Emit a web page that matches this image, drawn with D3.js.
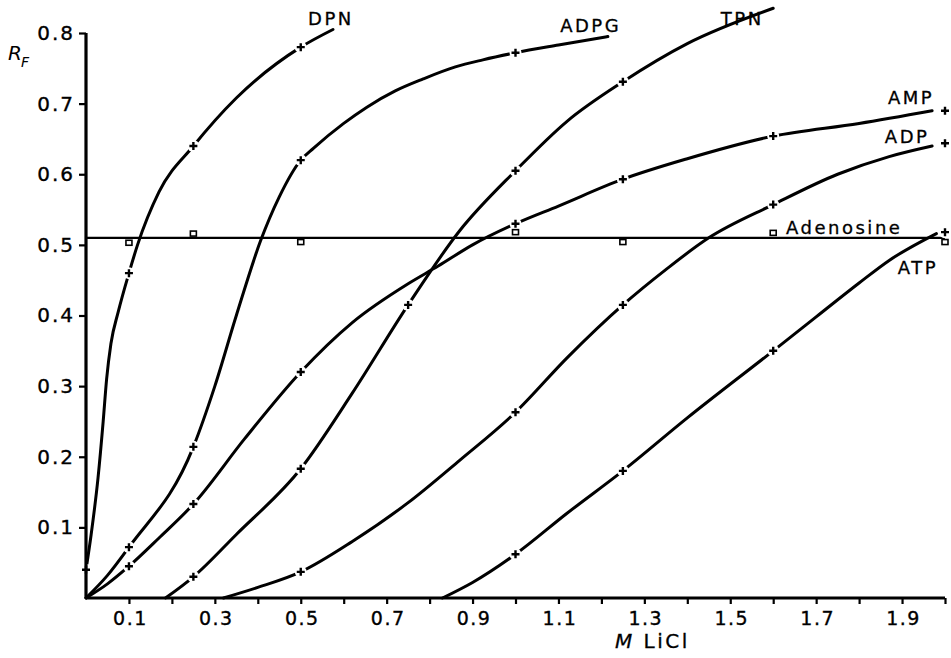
<!DOCTYPE html>
<html><head><meta charset="utf-8">
<script src="https://cdn.jsdelivr.net/npm/d3@7"></script>
<style>body{margin:0;background:#fff} svg{display:block}</style>
</head><body><svg id="c" width="951" height="658"></svg>
<script>
// ---- data ----
const seriesNames = ["DPN","ADPG","TPN","AMP","ADP","ATP","Adenosine"];

// measured points (+ markers)
const dpnX  = [0, 0.1, 0.25, 0.5];            const dpnY  = [0.04, 0.46, 0.64, 0.78];
const adpgX = [0.1, 0.25, 0.5, 1.0];          const adpgY = [0.072, 0.214, 0.62, 0.772];
const tpnX  = [0.25, 0.5, 0.75, 1.0, 1.25];   const tpnY  = [0.03, 0.183, 0.415, 0.605, 0.731];
const ampX  = [0.1, 0.25, 0.5, 1.0, 1.25, 1.6, 2.0]; const ampY = [0.045, 0.133, 0.32, 0.53, 0.593, 0.654, 0.69];
const adpX  = [0.5, 1.0, 1.25, 1.6, 2.0];     const adpY  = [0.037, 0.263, 0.415, 0.557, 0.644];
const atpX  = [1.0, 1.25, 1.6, 2.0];          const atpY  = [0.062, 0.18, 0.35, 0.518];
const adenX = [0.1, 0.25, 0.5, 1.0, 1.25, 1.6, 2.0]; const adenY = [0.503, 0.516, 0.504, 0.518, 0.504, 0.517, 0.504];
const adenLevel = 0.51;

// drawn curves
const dpnCurveX  = [0, 0.012, 0.028, 0.04, 0.048, 0.058, 0.075, 0.1, 0.12, 0.17, 0.25, 0.35, 0.5, 0.575];
const dpnCurveY  = [0.04, 0.09, 0.17, 0.25, 0.31, 0.36, 0.405, 0.46, 0.50, 0.575, 0.64, 0.708, 0.78, 0.805];
const adpgCurveX = [0, 0.05, 0.1, 0.25, 0.3, 0.35, 0.406, 0.45, 0.5, 0.53, 0.6, 0.654, 0.72, 0.785, 0.86, 0.924, 1.0, 1.1, 1.215];
const adpgCurveY = [0, 0.032, 0.072, 0.214, 0.3, 0.4, 0.505, 0.568, 0.62, 0.637, 0.672, 0.695, 0.718, 0.735, 0.752, 0.762, 0.772, 0.783, 0.795];
const tpnCurveX  = [0.185, 0.25, 0.35, 0.5, 0.62, 0.75, 0.87, 1.0, 1.12, 1.25, 1.4, 1.6];
const tpnCurveY  = [0, 0.03, 0.09, 0.183, 0.29, 0.415, 0.52, 0.605, 0.675, 0.731, 0.785, 0.835];
const ampCurveX  = [0, 0.05, 0.1, 0.17, 0.25, 0.37, 0.5, 0.62, 0.75, 0.82, 0.9, 1.0, 1.1, 1.25, 1.4, 1.6, 1.8, 1.97];
const ampCurveY  = [0, 0.02, 0.045, 0.085, 0.133, 0.226, 0.32, 0.39, 0.445, 0.47, 0.5, 0.53, 0.555, 0.593, 0.622, 0.654, 0.672, 0.69];
const adpCurveX  = [0.32, 0.4, 0.5, 0.62, 0.75, 0.87, 1.0, 1.12, 1.25, 1.35, 1.45, 1.6, 1.75, 1.87, 1.97];
const adpCurveY  = [0, 0.015, 0.037, 0.08, 0.135, 0.195, 0.263, 0.34, 0.415, 0.465, 0.51, 0.557, 0.6, 0.625, 0.64];
const atpCurveX  = [0.83, 0.9, 1.0, 1.12, 1.25, 1.4, 1.6, 1.7, 1.8, 1.87, 1.98];
const atpCurveY  = [0, 0.022, 0.062, 0.12, 0.18, 0.255, 0.35, 0.398, 0.446, 0.478, 0.516];

const xTickValues = [0.1,0.2,0.3,0.4,0.5,0.6,0.7,0.8,0.9,1.0,1.1,1.2,1.3,1.4,1.5,1.6,1.7,1.8,1.9,2.0];
const xTickLabels = ["0.1","","0.3","","0.5","","0.7","","0.9","","1.1","","1.3","","1.5","","1.7","","1.9",""];
const yTickValues = [0.1,0.2,0.3,0.4,0.5,0.6,0.7,0.8];
const yTickLabels = ["0.1","0.2","0.3","0.4","0.5","0.6","0.7","0.8"];

// ---- drawing ----
const svg = d3.select("#c");
const x = d3.scaleLinear().domain([0, 2.0]).range([86, 945]);
const y = d3.scaleLinear().domain([0, 0.8]).range([598, 33]);
const FONT = "'DejaVu Sans', sans-serif";

const zip = (a, b) => a.map((v, i) => [v, b[i]]);
const curves = [
  zip(dpnCurveX, dpnCurveY), zip(adpgCurveX, adpgCurveY), zip(tpnCurveX, tpnCurveY),
  zip(ampCurveX, ampCurveY), zip(adpCurveX, adpCurveY), zip(atpCurveX, atpCurveY)
];
const markers = [
  zip(dpnX, dpnY), zip(adpgX, adpgY), zip(tpnX, tpnY),
  zip(ampX, ampY), zip(adpX, adpY), zip(atpX, atpY)
].flat();

const line = d3.line().x(d => x(d[0])).y(d => y(d[1])).curve(d3.curveMonotoneX);

// adenosine level line
svg.append("line")
  .attr("x1", x(0)).attr("x2", x(2.0))
  .attr("y1", y(adenLevel)).attr("y2", y(adenLevel))
  .attr("stroke", "#000").attr("stroke-width", 2.2);

svg.append("g").selectAll("path").data(curves).join("path")
  .attr("d", line).attr("fill", "none").attr("stroke", "#000")
  .attr("stroke-width", 3).attr("stroke-linecap", "round");

// gaps around markers
svg.append("g").selectAll("circle").data(markers).join("circle")
  .attr("cx", d => x(d[0])).attr("cy", d => y(d[1])).attr("r", 6).attr("fill", "#fff");

// axes
const xAxis = d3.axisBottom(x).tickValues(xTickValues).tickSize(6)
  .tickFormat((d, i) => xTickLabels[i]);
const gx = svg.append("g").attr("transform", `translate(0,${y(0)})`).call(xAxis);
gx.select(".domain").attr("d", `M${x(0)},0H${x(2.0)}`).attr("stroke-width", 3.2);
gx.selectAll(".tick line").attr("stroke-width", 2.2);
gx.selectAll(".tick text").attr("font-family", FONT).attr("font-size", 19)
  .attr("letter-spacing", "1.5px").attr("dy", "0.95em").attr("dx", "1px")
  .attr("stroke", "#000").attr("stroke-width", 0.35);

const yAxis = d3.axisLeft(y).tickValues(yTickValues).tickSize(7)
  .tickFormat((d, i) => yTickLabels[i]);
const gy = svg.append("g").attr("transform", `translate(${x(0)},0)`).call(yAxis);
gy.select(".domain").attr("d", `M0,${y(0)}V${y(0.8)}`).attr("stroke-width", 3.2);
gy.selectAll(".tick line").attr("stroke-width", 2.2);
gy.selectAll(".tick text").attr("font-family", FONT).attr("font-size", 20)
  .attr("letter-spacing", "2px").attr("x", -11)
  .attr("stroke", "#000").attr("stroke-width", 0.35);

// plus markers
svg.append("g").selectAll("path").data(markers).join("path")
  .attr("d", d => { const cx = x(d[0]), cy = y(d[1]);
    return `M${cx-4},${cy}H${cx+4}M${cx},${cy-4}V${cy+4}`; })
  .attr("stroke", "#000").attr("stroke-width", 2.4);

// adenosine squares
svg.append("g").selectAll("rect").data(zip(adenX, adenY)).join("rect")
  .attr("x", d => x(d[0]) - 3).attr("y", d => y(d[1]) - 2.5)
  .attr("width", 6).attr("height", 5)
  .attr("fill", "#fff").attr("stroke", "#000").attr("stroke-width", 1.6);

// series labels
const labelAt = [
  ["DPN", 0.517, 0.812], ["ADPG", 1.104, 0.801], ["TPN", 1.478, 0.811],
  ["AMP", 1.867, 0.7], ["ADP", 1.86, 0.644], ["Adenosine", 1.63, 0.516], ["ATP", 1.89, 0.459]
];
svg.append("g").selectAll("text").data(labelAt).join("text")
  .attr("x", d => x(d[1])).attr("y", d => y(d[2]))
  .attr("font-family", FONT).attr("font-size", 18).attr("letter-spacing", "2.5px")
  .attr("stroke", "#000").attr("stroke-width", 0.3)
  .text(d => d[0]);

// axis titles
const rf = svg.append("text").attr("x", 8).attr("y", 60)
  .attr("font-family", FONT).attr("font-size", 20).attr("font-style", "italic");
rf.append("tspan").text("R");
rf.append("tspan").attr("font-size", 14).attr("dy", 7).attr("dx", -1).text("F");

const xt = svg.append("text").attr("x", 615).attr("y", 648)
  .attr("font-family", FONT).attr("font-size", 20).attr("letter-spacing", "2.5px")
  .attr("stroke", "#000").attr("stroke-width", 0.3);
xt.append("tspan").attr("font-style", "italic").text("M");
xt.append("tspan").text(" LiCl");
</script>
</body></html>
